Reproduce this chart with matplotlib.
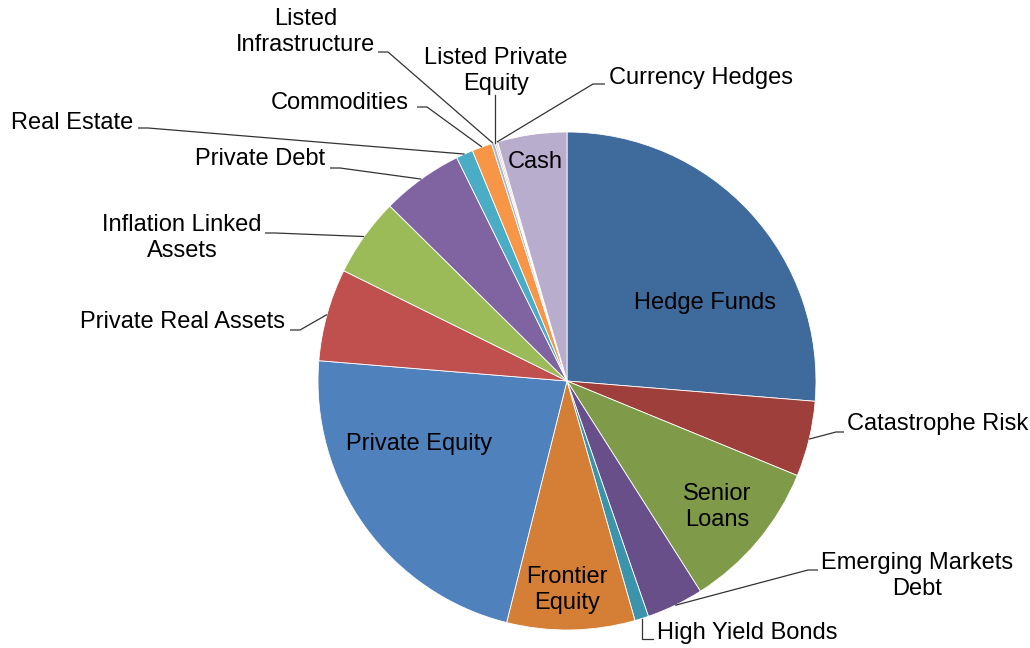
import matplotlib
matplotlib.use("Agg")
import matplotlib.pyplot as plt
import numpy as np

plt.rcParams['font.family'] = ['Liberation Sans', 'DejaVu Sans']

# Allocation by asset class (%), clockwise from 12 o'clock
categories = [
    "Hedge Funds", "Catastrophe Risk", "Senior Loans", "Emerging Markets Debt",
    "High Yield Bonds", "Frontier Equity", "Private Equity", "Private Real Assets",
    "Inflation Linked Assets", "Private Debt", "Real Estate", "Commodities",
    "Listed Infrastructure", "Listed Private Equity", "Currency Hedges", "Cash",
]
weights = [26.3, 4.9, 9.8, 3.7, 0.9, 8.3, 22.4, 6.0,
           5.1, 5.3, 1.1, 1.3, 0.2, 0.1, 0.1, 4.5]
colors = ["#3F6A9C", "#9F3F3C", "#7F9A48", "#684F89", "#3B94AB", "#D57F36",
          "#4F81BD", "#C0504D", "#9BBB59", "#8064A2", "#4BACC6", "#F79646",
          "#A7B9D7", "#D9A6A5", "#CDDDAC", "#B9ADCD"]

W, H = 1030, 648
fig = plt.figure(figsize=(W / 100, H / 100), dpi=100)
ax = fig.add_axes([0, 0, 1, 1])

cx, cy, r = 567, 381, 249  # pixel-space centre (y measured from top)


def Y(y):
    return H - y


ax.pie(weights, colors=colors, startangle=90, counterclock=False,
       center=(cx, Y(cy)), radius=r,
       wedgeprops=dict(edgecolor="white", linewidth=0.6))
ax.set_xlim(0, W)
ax.set_ylim(0, H)
ax.set_aspect("equal")
ax.axis("off")

total = float(sum(weights))
cum = np.cumsum([0] + weights)
mid = {c: 360.0 * (cum[i] + weights[i] / 2) / total for i, c in enumerate(categories)}


def edge(cat, frac=1.0):
    t = np.deg2rad(mid[cat])
    return cx + frac * r * np.sin(t), cy - frac * r * np.cos(t)


FS = 17
LS = 1.27
LC = "#333333"

# labels drawn inside their slices
inside = {
    "Hedge Funds": ("Hedge Funds", 705, 303),
    "Senior Loans": ("Senior\nLoans", 717, 507),
    "Frontier Equity": ("Frontier\nEquity", 567, 590),
    "Private Equity": ("Private Equity", 419, 444),
    "Cash": ("Cash", 535, 162),
}
for cat, (txt, x, y) in inside.items():
    ax.text(x, Y(y), txt, ha="center", va="center", fontsize=FS,
            linespacing=LS, color="black")

# outside labels: text, text anchor, alignment, stub start, elbow
outside = [
    ("Catastrophe Risk", "Catastrophe Risk", (847, 424), "left", (844, 432), (836, 432)),
    ("Emerging Markets Debt", "Emerging Markets\nDebt", (917, 576), "center", (818, 570), (808, 570)),
    ("Private Real Assets", "Private Real Assets", (285, 322), "right", (290, 330), (300, 330)),
    ("Inflation Linked Assets", "Inflation Linked\nAssets", (182, 238), "center", (265, 233), (275, 233)),
    ("Private Debt", "Private Debt", (325, 159), "right", (330, 168), (340, 168)),
    ("Real Estate", "Real Estate", (133, 123), "right", (138, 128), (148, 128)),
    ("Commodities", "Commodities", (409, 103), "right", (417, 107), (427, 107)),
    ("Listed Infrastructure", "Listed\nInfrastructure", (306, 32), "center", (378, 52), (388, 52)),
    ("Currency Hedges", "Currency Hedges", (609, 78), "left", (605, 84), (593, 84)),
]
for cat, txt, (tx, ty), ha, s0, s1 in outside:
    ax.text(tx, Y(ty), txt, ha=ha, va="center", fontsize=FS,
            linespacing=LS, color="black")
    ex, ey = edge(cat)
    ax.plot([s0[0], s1[0], ex], [Y(s0[1]), Y(s1[1]), Y(ey)],
            color=LC, lw=0.9, solid_capstyle="butt")

# Listed Private Equity: vertical leader
ax.text(496, Y(71), "Listed Private\nEquity", ha="center", va="center",
        fontsize=FS, linespacing=LS, color="black")
ex, ey = edge("Listed Private Equity")
ax.plot([ex, ex], [Y(95), Y(ey)], color=LC, lw=0.9)

# High Yield Bonds: drop then right
ax.text(657, Y(633), "High Yield Bonds", ha="left", va="center",
        fontsize=FS, color="black")
ex, ey = edge("High Yield Bonds")
ax.plot([ex, ex, 653], [Y(ey), Y(639), Y(639)], color=LC, lw=0.9)

fig.savefig("out.png", dpi=100, facecolor="white")
